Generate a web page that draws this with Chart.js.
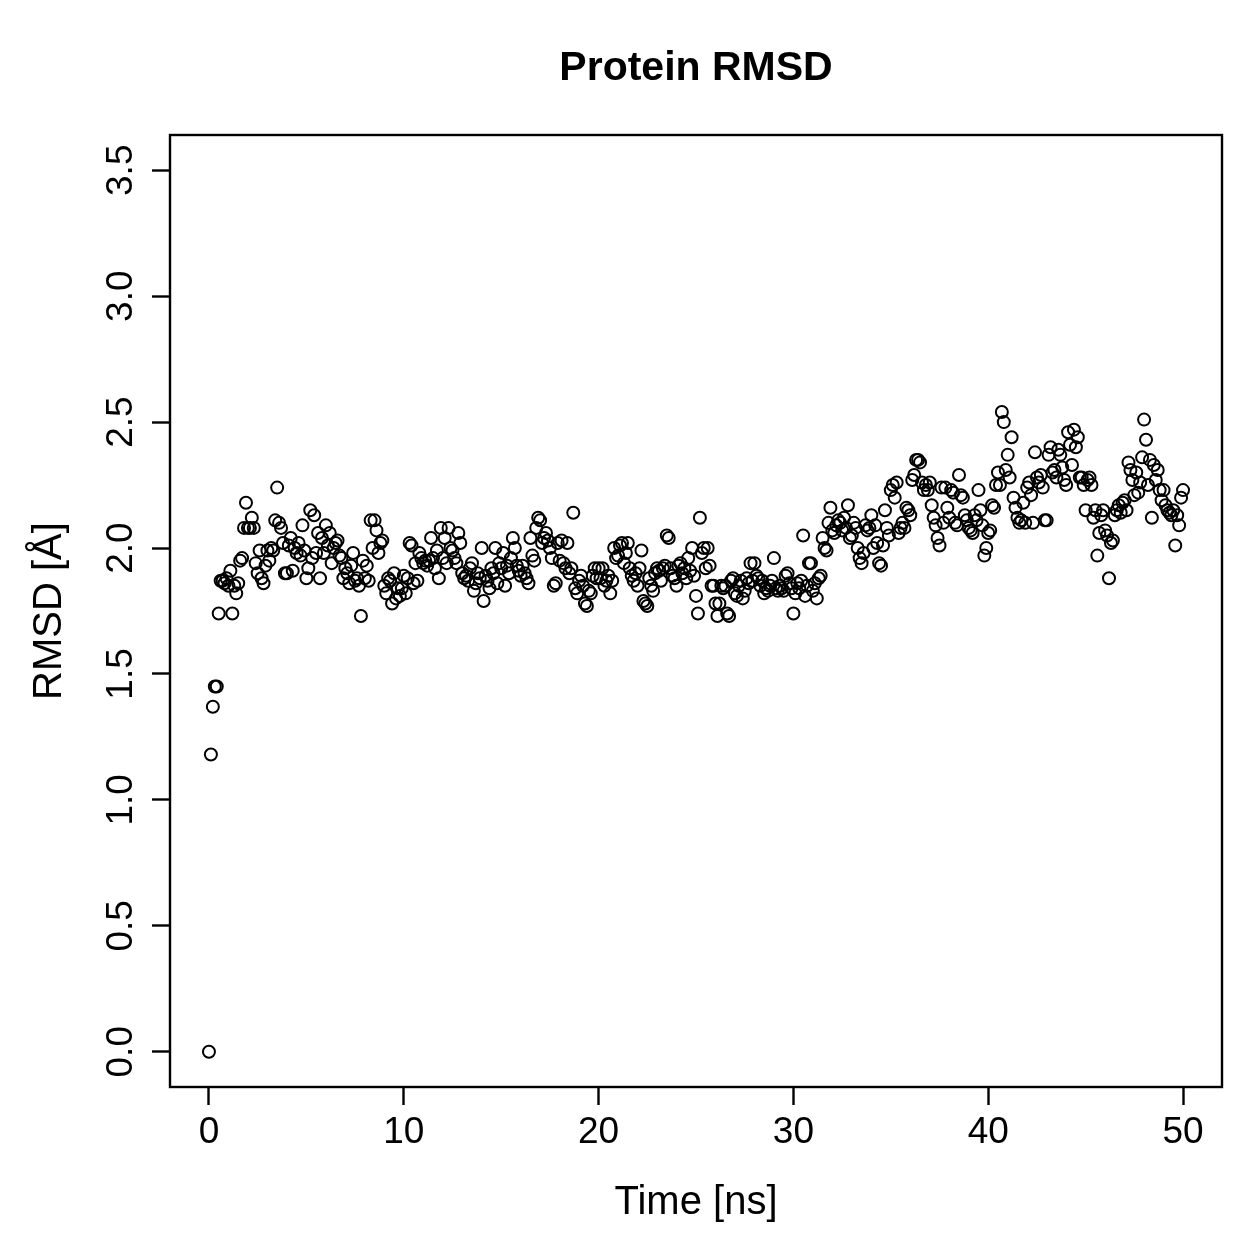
<!DOCTYPE html>
<html>
<head>
<meta charset="utf-8">
<title>Protein RMSD</title>
<script src="https://cdn.jsdelivr.net/npm/chart.js@4"></script>
<style>
  html, body { margin: 0; padding: 0; background: #fff; }
  #wrap { width: 1259px; height: 1259px; }
</style>
</head>
<body>
<div id="wrap"><canvas id="rmsd-chart" width="1259" height="1259"></canvas></div>
<script>
// sampling interval of the trajectory, ns
const timeStep = 0.1;

// RMSD [Å], one value per frame (10 frames per ns)
const rmsd0to10 = [
  0.00, 1.18, 1.37, 1.45, 1.45, 1.74, 1.87, 1.87, 1.86, 1.88,
  1.85, 1.91, 1.74, 1.85, 1.82, 1.86, 1.95, 1.96, 2.08, 2.18,
  2.08, 2.08, 2.12, 2.08, 1.94, 1.90, 1.99, 1.88, 1.86, 1.93,
  1.99, 1.95, 2.00, 1.99, 2.11, 2.24, 2.10, 2.08, 2.02, 1.90,
  1.90, 2.01, 2.04, 1.91, 2.00, 1.98, 2.02, 1.97, 2.09, 1.99,
  1.88, 1.92, 2.15, 1.96, 2.13, 1.98, 2.06, 1.88, 2.04, 1.98,
  2.09, 2.01, 2.06, 1.94, 2.00, 2.02, 2.03, 1.97, 1.96, 1.88,
  1.92, 1.90, 1.86, 1.93, 1.98, 1.87, 1.88, 1.85, 1.73, 1.95,
  1.88, 1.93, 1.87, 2.11, 2.00, 2.11, 2.07, 1.98, 2.02, 2.03,
  1.85, 1.82, 1.88, 1.87, 1.78, 1.90, 1.80, 1.84, 1.81, 1.84
];
const rmsd10to20 = [
  1.89, 1.82, 1.88, 2.02, 2.01, 1.86, 1.94, 1.87, 1.98, 1.96,
  1.94, 1.95, 1.93, 1.95, 2.04, 1.96, 1.92, 1.99, 1.88, 2.08,
  1.96, 2.04, 1.94, 2.08, 2.00, 1.99, 1.96, 1.94, 2.06, 2.02,
  1.90, 1.88, 1.89, 1.87, 1.92, 1.94, 1.83, 1.86, 1.90, 1.88,
  2.00, 1.79, 1.89, 1.87, 1.84, 1.92, 1.90, 2.00, 1.86, 1.94,
  1.92, 1.98, 1.85, 1.93, 1.90, 1.96, 2.04, 2.00, 1.93, 1.91,
  1.89, 1.93, 1.90, 1.88, 1.86, 2.04, 1.97, 1.95, 2.08, 2.12,
  2.11, 2.02, 2.04, 2.06, 2.03, 2.00, 1.96, 1.85, 1.86, 2.02,
  1.95, 2.03, 1.94, 1.92, 2.02, 1.90, 1.92, 2.14, 1.84, 1.82,
  1.87, 1.89, 1.85, 1.78, 1.77, 1.83, 1.82, 1.89, 1.92, 1.88
];
const rmsd20to30 = [
  1.92, 1.88, 1.92, 1.85, 1.87, 1.89, 1.82, 1.87, 2.00, 1.96,
  1.97, 2.01, 2.02, 1.94, 1.98, 2.02, 1.92, 1.89, 1.87, 1.90,
  1.85, 1.92, 1.99, 1.79, 1.78, 1.77, 1.88, 1.85, 1.83, 1.90,
  1.92, 1.91, 1.87, 1.92, 1.93, 2.05, 2.04, 1.92, 1.89, 1.88,
  1.85, 1.93, 1.94, 1.90, 1.92, 1.88, 1.96, 1.91, 2.00, 1.89,
  1.81, 1.74, 2.12, 1.98, 2.00, 1.92, 2.00, 1.93, 1.85, 1.85,
  1.78, 1.73, 1.78, 1.85, 1.84, 1.85, 1.74, 1.73, 1.87, 1.88,
  1.82, 1.81, 1.85, 1.87, 1.80, 1.83, 1.88, 1.86, 1.94, 1.87,
  1.94, 1.89, 1.88, 1.85, 1.87, 1.82, 1.84, 1.83, 1.85, 1.87,
  1.96, 1.84, 1.83, 1.85, 1.84, 1.83, 1.89, 1.90, 1.86, 1.84
];
const rmsd30to40 = [
  1.74, 1.82, 1.86, 1.84, 1.87, 2.05, 1.81, 1.85, 1.94, 1.94,
  1.83, 1.86, 1.80, 1.88, 1.89, 2.04, 2.00, 1.99, 2.10, 2.16,
  2.07, 2.06, 2.09, 2.11, 2.10, 2.07, 2.12, 2.08, 2.17, 2.04,
  2.05, 2.10, 2.08, 2.00, 1.96, 1.94, 1.98, 2.09, 2.07, 2.08,
  2.13, 2.00, 2.09, 2.02, 1.94, 1.93, 2.01, 2.15, 2.08, 2.05,
  2.23, 2.25, 2.20, 2.26, 2.06, 2.08, 2.10, 2.08, 2.16, 2.15,
  2.13, 2.27, 2.29, 2.35, 2.35, 2.34, 2.26, 2.23, 2.25, 2.23,
  2.26, 2.17, 2.12, 2.09, 2.04, 2.01, 2.24, 2.10, 2.24, 2.16,
  2.12, 2.23, 2.22, 2.10, 2.09, 2.29, 2.21, 2.20, 2.13, 2.11,
  2.08, 2.07, 2.06, 2.13, 2.11, 2.23, 2.15, 2.09, 1.97, 2.00
];
const rmsd40to50 = [
  2.06, 2.07, 2.17, 2.16, 2.25, 2.30, 2.25, 2.54, 2.50, 2.31,
  2.37, 2.28, 2.44, 2.20, 2.16, 2.12, 2.10, 2.11, 2.18, 2.10,
  2.24, 2.26, 2.21, 2.10, 2.38, 2.28, 2.26, 2.29, 2.24, 2.11,
  2.11, 2.37, 2.40, 2.30, 2.31, 2.28, 2.39, 2.37, 2.32, 2.27,
  2.25, 2.46, 2.41, 2.33, 2.47, 2.40, 2.44, 2.28, 2.28, 2.25,
  2.15, 2.27, 2.28, 2.25, 2.12, 2.15, 1.97, 2.06, 2.13, 2.15,
  2.07, 2.05, 1.88, 2.02, 2.03, 2.13, 2.15, 2.17, 2.14, 2.18,
  2.19, 2.15, 2.34, 2.31, 2.27, 2.21, 2.30, 2.22, 2.26, 2.36,
  2.51, 2.43, 2.25, 2.35, 2.12, 2.33, 2.27, 2.31, 2.23, 2.19,
  2.23, 2.17, 2.15, 2.14, 2.13, 2.15, 2.01, 2.13, 2.09, 2.20,
  2.23
];

const xTicks = [0, 10, 20, 30, 40, 50];
const yTicks = [0.0, 0.5, 1.0, 1.5, 2.0, 2.5, 3.0, 3.5];
const mainTitle = 'Protein RMSD';

const FONT = '"Liberation Sans", Arial, Helvetica, sans-serif';

const rmsd = [].concat(rmsd0to10, rmsd10to20, rmsd20to30, rmsd30to40, rmsd40to50);
const points = rmsd.map((v, i) => ({ x: i * timeStep, y: v }));

// R style box, title over the plot region, rotated y tick labels
const frameAndLabels = {
  id: 'frameAndLabels',
  afterDraw(chart) {
    const { ctx, chartArea, scales } = chart;
    ctx.save();
    ctx.strokeStyle = '#000';
    ctx.lineWidth = 2.4;
    ctx.strokeRect(chartArea.left, chartArea.top,
      chartArea.right - chartArea.left, chartArea.bottom - chartArea.top);

    ctx.fillStyle = '#000';
    ctx.textAlign = 'center';
    ctx.textBaseline = 'middle';

    ctx.font = 'bold 41px ' + FONT;
    ctx.fillText(mainTitle, (chartArea.left + chartArea.right) / 2, 69);

    ctx.font = '37px ' + FONT;
    yTicks.forEach(v => {
      const y = scales.y.getPixelForValue(v);
      ctx.save();
      ctx.translate(chartArea.left - 48, y);
      ctx.rotate(-Math.PI / 2);
      ctx.fillText(v.toFixed(1), 0, 0);
      ctx.restore();
    });
    ctx.restore();
  }
};

const ctx = document.getElementById('rmsd-chart').getContext('2d');
const chart = new Chart(ctx, {
  type: 'scatter',
  data: {
    datasets: [{
      data: points,
      pointStyle: 'circle',
      radius: 6,
      borderWidth: 2,
      borderColor: '#000',
      backgroundColor: 'rgba(0,0,0,0)'
    }]
  },
  options: {
    responsive: false,
    animation: false,
    devicePixelRatio: 1,
    layout: { padding: { left: 0, right: 37, top: 135, bottom: 0 } },
    plugins: {
      legend: { display: false },
      tooltip: { enabled: false },
      title: { display: false }
    },
    scales: {
      x: {
        type: 'linear',
        min: -2,
        max: 52,
        afterBuildTicks: (s) => { s.ticks = xTicks.map(v => ({ value: v })); },
        afterFit: (s) => { s.height = 172; },
        border: { display: false },
        grid: { drawOnChartArea: false, drawTicks: true, tickLength: 18, tickWidth: 2.4, tickColor: '#000' },
        ticks: {
          color: '#000',
          font: { family: FONT, size: 37 },
          padding: 6,
          maxRotation: 0,
          minRotation: 0,
          autoSkip: false
        },
        title: {
          display: true,
          text: 'Time [ns]',
          color: '#000',
          font: { family: FONT, size: 40, lineHeight: 1.2 },
          padding: { top: 0, bottom: 32 }
        }
      },
      y: {
        type: 'linear',
        min: -0.14,
        max: 3.64,
        afterBuildTicks: (s) => { s.ticks = yTicks.map(v => ({ value: v })); },
        afterFit: (s) => { s.width = 170; },
        border: { display: false },
        grid: { drawOnChartArea: false, drawTicks: true, tickLength: 18, tickWidth: 2.4, tickColor: '#000' },
        ticks: { display: false },
        title: {
          display: true,
          text: 'RMSD [Å]',
          color: '#000',
          font: { family: FONT, size: 40, lineHeight: 1.2 },
          padding: { top: 26, bottom: 0 }
        }
      }
    }
  },
  plugins: [frameAndLabels]
});
</script>
</body>
</html>
